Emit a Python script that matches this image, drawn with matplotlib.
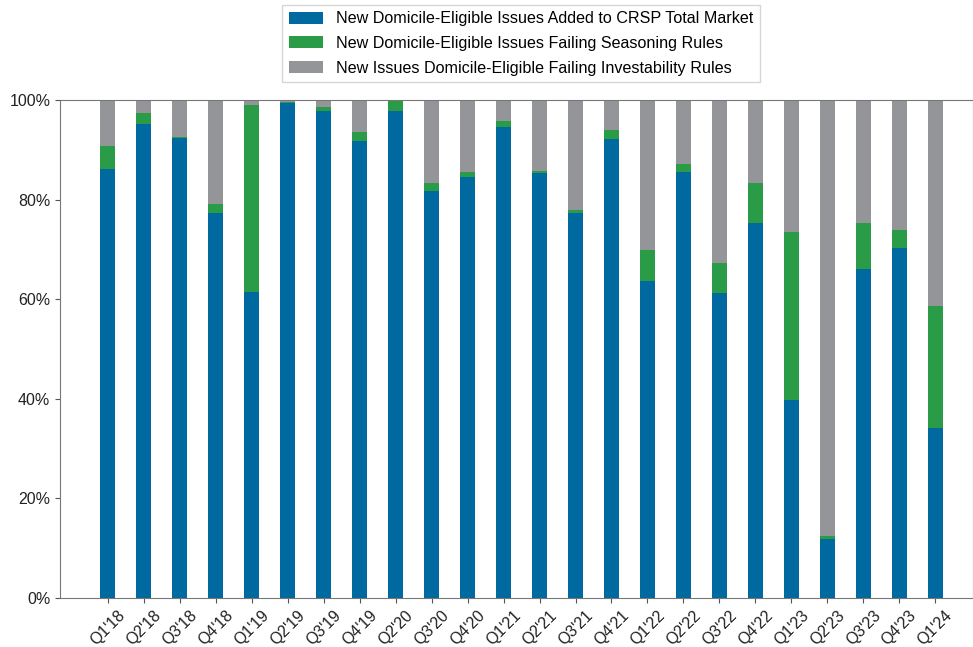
import matplotlib.pyplot as plt
import numpy as np
from matplotlib.ticker import PercentFormatter

plt.rcParams["font.family"] = ["Liberation Sans", "DejaVu Sans"]

QUARTERS = [
    "Q1'18", "Q2'18", "Q3'18", "Q4'18", "Q1'19", "Q2'19", "Q3'19", "Q4'19",
    "Q2'20", "Q3'20", "Q4'20", "Q1'21", "Q2'21", "Q3'21", "Q4'21", "Q1'22",
    "Q2'22", "Q3'22", "Q4'22", "Q1'23", "Q2'23", "Q3'23", "Q4'23", "Q1'24"
]

# share of new issues (%)
added = [86.1, 95.1, 92.4, 77.4, 61.5, 99.5, 97.7, 91.8,
         97.8, 81.8, 84.6, 94.6, 85.4, 77.4, 92.1, 63.7,
         85.5, 61.2, 75.4, 39.8, 11.8, 66.0, 70.2, 34.1]
seasoning = [4.7, 2.3, 0.2, 1.7, 37.6, 0.2, 1.0, 1.8,
             2.2, 1.6, 1.0, 1.2, 0.4, 0.5, 1.9, 6.2,
             1.6, 6.1, 8.0, 33.6, 0.6, 9.4, 3.8, 24.5]

LABELS = [
    "New Domicile-Eligible Issues Added to CRSP Total Market",
    "New Domicile-Eligible Issues Failing Seasoning Rules",
    "New Issues Domicile-Eligible Failing Investability Rules",
]
COLORS = ["#00699f", "#2a9b47", "#939598"]

added = np.array(added)
seasoning = np.array(seasoning)
investability = 100 - added - seasoning

fig = plt.figure(figsize=(9.73, 6.47), dpi=100)
ax = fig.add_axes([0.0617, 0.0757, 0.9383, 0.7697])

x = np.arange(len(QUARTERS))
w = 0.42
ax.bar(x, added, w, color=COLORS[0], label=LABELS[0])
ax.bar(x, seasoning, w, bottom=added, color=COLORS[1], label=LABELS[1])
ax.bar(x, investability, w, bottom=added + seasoning, color=COLORS[2], label=LABELS[2])

ax.set_xlim(-1.33, 24.05)
ax.set_ylim(0, 100)
ax.set_yticks(range(0, 101, 20))
ax.yaxis.set_major_formatter(PercentFormatter(decimals=0))
ax.set_xticks(x)
ax.set_xticklabels(QUARTERS, rotation=45, ha="center")

for side in ["top", "bottom", "left", "right"]:
    ax.spines[side].set_color("#777777")
ax.tick_params(axis="both", colors="#555555", labelcolor="#222222", labelsize=11.5)

ax.legend(loc="lower center", bbox_to_anchor=(0.505, 1.02), fontsize=11.6,
          frameon=True, edgecolor="#cccccc", fancybox=False, handlelength=2.1,
          handleheight=0.75, handletextpad=0.85, borderpad=0.4, labelspacing=0.6)

plt.savefig("out.png", dpi=100)
